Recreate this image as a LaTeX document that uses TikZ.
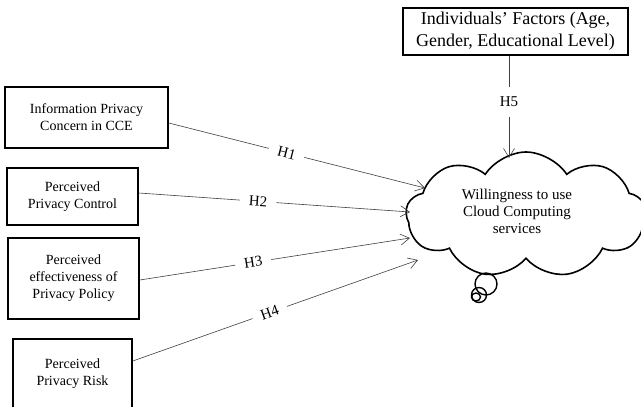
\documentclass[tikz,border=0pt]{standalone}
\usepackage{fontspec}
\setmainfont{Liberation Serif}
\usetikzlibrary{shapes.symbols,arrows.meta}
\begin{document}
\begin{tikzpicture}[x=1pt,y=-1pt,
 box/.style={draw=black,line width=1.6pt,align=center,font=\fontsize{14}{17}\selectfont,inner sep=2pt},
 conn/.style={draw=black!75,line width=0.6pt,-{Straight Barb[length=9pt,width=11pt,line width=0.6pt]}},
 lbl/.style={fill=white,inner xsep=9pt,inner ysep=1pt,font=\fontsize{15}{17}\selectfont,sloped,text=black}]
\useasboundingbox (0,0) rectangle (641,407);
\fill[white] (0,0) rectangle (641,407);
% boxes
\node[box,minimum width=163pt,minimum height=61pt] (b1) at (86.5,117.5) {Information Privacy\\Concern in CCE};
\node[box,minimum width=131pt,minimum height=57pt] (b2) at (72.5,196.5) {Perceived\\Privacy Control};
\node[box,minimum width=131pt,minimum height=81pt] (b3) at (73.5,278.5) {Perceived\\effectiveness of\\Privacy Policy};
\node[box,minimum width=119pt,minimum height=70pt] (b4) at (72.5,374) {Perceived\\Privacy Risk};
\node[box,minimum width=225pt,minimum height=47pt,font=\fontsize{18}{22}\selectfont] (top) at (515.5,31.5) {Individuals' Factors (Age,\\Gender, Educational Level)};
% cloud
\node[cloud,draw=black,line width=1.6pt,cloud puffs=9,cloud puff arc=115,aspect=2,minimum width=240pt,minimum height=126pt] (cl) at (526,215) {};
\node[align=center,font=\fontsize{15}{17}\selectfont] (clt) at (517,211) {Willingness to use\\Cloud Computing\\services};
\draw[line width=1.4pt] (486,284) circle (11);
\draw[line width=1.4pt] (479,295) circle (7.5);
\draw[line width=1.4pt] (476,297) ellipse (4.5 and 4);
% arrow ends
\coordinate (e1) at (425,188);
\coordinate (e2) at (410,212);
\coordinate (e3) at (410,238);
\coordinate (e4) at (418,260);
\coordinate (e5) at (509,158);
% connectors
\draw[conn] ([yshift=-5.5pt]b1.east) -- node[lbl,pos=0.46]{H1} (e1);
\draw[conn] ([yshift=3.5pt]b2.east) -- node[lbl,pos=0.44]{H2} (e2);
\draw[conn] ([yshift=-1.5pt]b3.east) -- node[lbl,pos=0.42]{H3} (e3);
\draw[conn] ([yshift=13pt]b4.east) -- node[lbl,pos=0.48]{H4} (e4);
\draw[conn] ([xshift=-6.5pt]top.south) -- node[lbl,pos=0.45,sloped=false,inner xsep=2pt,inner ysep=10pt]{H5} (e5);
\end{tikzpicture}
\end{document}
